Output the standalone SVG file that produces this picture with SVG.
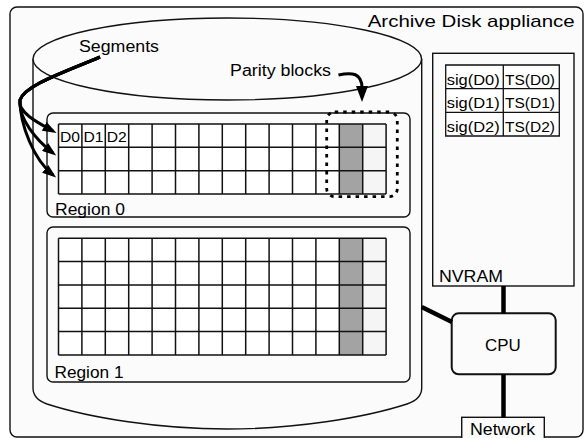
<svg xmlns="http://www.w3.org/2000/svg" width="586" height="438" viewBox="0 0 586 438">
<defs>
<style>
text{font-family:"Liberation Sans",Arial,sans-serif;fill:#000;}
.box{fill:#fbfbfb;stroke:#111;stroke-width:1.4;}
.cell{fill:#fff;}
.grid{fill:none;stroke:#111;stroke-width:1.5;}
.thick{fill:none;stroke:#000;stroke-width:4.5;}
.arr{fill:none;stroke:#000;stroke-width:3;}
</style>
<marker id="ah" viewBox="0 0 14 10" refX="10" refY="5" markerWidth="14" markerHeight="10" markerUnits="userSpaceOnUse" orient="auto">
<path d="M0,0 L14,5 L0,10 z" fill="#000"/>
</marker>
<marker id="ah2" viewBox="0 0 16 12" refX="11" refY="6" markerWidth="16" markerHeight="12" markerUnits="userSpaceOnUse" orient="auto">
<path d="M0,0 L16,6 L0,12 z" fill="#000"/>
</marker>
</defs>
<rect width="586" height="438" fill="#fff"/>
<g id="appliance">
<rect class="box" x="10" y="7" width="573" height="430" rx="7"/>
<text x="367.7" y="27" font-size="17" textLength="207" lengthAdjust="spacingAndGlyphs">Archive Disk appliance</text>
</g>
<g id="disk">
<path class="box" d="M33,59 L33,388 Q33,399 47,404 C90,418 160,429 227,429 C294,429 364,418 407,404 Q421.7,399 421.7,388 L421.7,59"/>
<ellipse class="box" cx="227.3" cy="59" rx="194.3" ry="41"/>
</g>
<g id="region0">
<rect class="box" x="47" y="113" width="363" height="104" rx="6"/>
<rect class="cell" x="58.5" y="124" width="327.6" height="70"/>
<rect x="339.3" y="124" width="23.4" height="70" fill="#a3a3a3"/>
<rect x="362.7" y="124" width="23.4" height="70" fill="#f5f5f5"/>
<path class="grid" d="M58.5,124V194M81.9,124V194M105.3,124V194M128.7,124V194M152.1,124V194M175.5,124V194M198.9,124V194M222.3,124V194M245.7,124V194M269.1,124V194M292.5,124V194M315.9,124V194M339.3,124V194M362.7,124V194M386.1,124V194M58.5,124H386.1M58.5,147.3H386.1M58.5,170.7H386.1M58.5,194H386.1"/>
<text x="60" y="141.5" font-size="14" textLength="20" lengthAdjust="spacingAndGlyphs">D0</text>
<text x="83.4" y="141.5" font-size="14" textLength="20" lengthAdjust="spacingAndGlyphs">D1</text>
<text x="106.8" y="141.5" font-size="14" textLength="20" lengthAdjust="spacingAndGlyphs">D2</text>
<text x="55" y="215" font-size="16" textLength="70" lengthAdjust="spacingAndGlyphs">Region 0</text>
</g>
<g id="region1">
<rect class="box" x="47" y="227" width="363" height="155" rx="6"/>
<rect class="cell" x="58.5" y="238.3" width="327.6" height="116.7"/>
<rect x="339.3" y="238.3" width="23.4" height="116.7" fill="#a3a3a3"/>
<rect x="362.7" y="238.3" width="23.4" height="116.7" fill="#f5f5f5"/>
<path class="grid" d="M58.5,238.3V355M81.9,238.3V355M105.3,238.3V355M128.7,238.3V355M152.1,238.3V355M175.5,238.3V355M198.9,238.3V355M222.3,238.3V355M245.7,238.3V355M269.1,238.3V355M292.5,238.3V355M315.9,238.3V355M339.3,238.3V355M362.7,238.3V355M386.1,238.3V355M58.5,238.3H386.1M58.5,261.6H386.1M58.5,285H386.1M58.5,308.3H386.1M58.5,331.6H386.1M58.5,355H386.1"/>
<text x="54.5" y="378" font-size="16" textLength="69" lengthAdjust="spacingAndGlyphs">Region 1</text>
</g>
<g id="parity-group">
<rect x="326.7" y="112" width="70.6" height="84.7" rx="8" fill="none" stroke="#000" stroke-width="2.8" stroke-dasharray="3.5 5"/>
</g>
<g id="nvram">
<rect class="box" x="432.7" y="53.3" width="141.3" height="232.7"/>
<rect class="cell" x="445.7" y="65" width="113.6" height="71"/>
<path class="grid" style="stroke-width:1.3" d="M445.7,65H559.3V136H445.7ZM445.7,88.7H559.3M445.7,112.3H559.3M503.3,65V136"/>
<text x="446.7" y="84.5" font-size="15" textLength="53" lengthAdjust="spacingAndGlyphs">sig(D0)</text>
<text x="505" y="84.5" font-size="15" textLength="50" lengthAdjust="spacingAndGlyphs">TS(D0)</text>
<text x="446.7" y="108.2" font-size="15" textLength="53" lengthAdjust="spacingAndGlyphs">sig(D1)</text>
<text x="505" y="108.2" font-size="15" textLength="50" lengthAdjust="spacingAndGlyphs">TS(D1)</text>
<text x="446.7" y="131.8" font-size="15" textLength="53" lengthAdjust="spacingAndGlyphs">sig(D2)</text>
<text x="505" y="131.8" font-size="15" textLength="50" lengthAdjust="spacingAndGlyphs">TS(D2)</text>
<text x="439" y="281.7" font-size="17" textLength="64" lengthAdjust="spacingAndGlyphs">NVRAM</text>
</g>
<g id="cpu">
<rect class="box" x="451.7" y="313.3" width="104" height="61" rx="7" style="stroke-width:2"/>
<text x="485" y="351" font-size="17" textLength="35.7" lengthAdjust="spacingAndGlyphs">CPU</text>
</g>
<g id="network">
<rect class="box" x="461.7" y="417.3" width="82.6" height="30"/>
<text x="470" y="434.5" font-size="16.5" textLength="65" lengthAdjust="spacingAndGlyphs">Network</text>
</g>
<g id="labels">
<text x="79" y="52" font-size="16" textLength="80" lengthAdjust="spacingAndGlyphs">Segments</text>
<text x="230" y="75.5" font-size="16" textLength="101" lengthAdjust="spacingAndGlyphs">Parity blocks</text>
</g>
<g id="connectors">
<path class="thick" d="M503.5,286V313.3"/>
<path class="thick" d="M503.5,374.3V417.3"/>
<path class="thick" d="M421.7,307L452,322"/>
<path class="arr" marker-end="url(#ah2)" d="M338.5,75 C352,72 362,73 362,88 L362,97"/>
<path class="arr" marker-end="url(#ah)" d="M100,57 C65,72 25,85 20,100 C17,112 38,123 53,131"/>
<path class="arr" marker-end="url(#ah)" d="M100,57 C65,72 25,85 20,100 C18,118 36,140 53,153"/>
<path class="arr" marker-end="url(#ah)" d="M100,57 C65,72 25,85 20,100 C20,125 34,160 53,175"/>
</g>
</svg>
